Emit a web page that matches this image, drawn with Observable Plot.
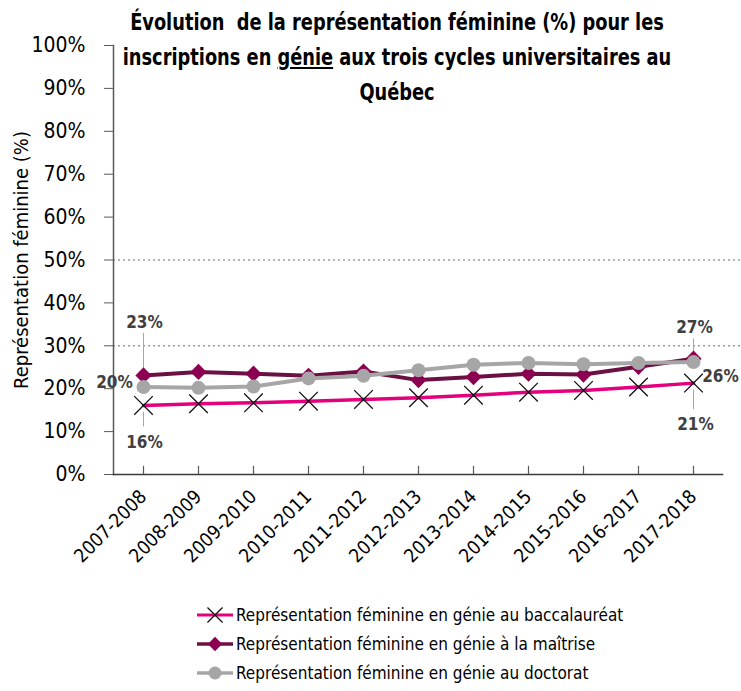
<!DOCTYPE html>
<html>
<head>
<meta charset="utf-8">
<script src="https://cdn.jsdelivr.net/npm/d3@7"></script>
<script src="https://cdn.jsdelivr.net/npm/@observablehq/plot@0.6"></script>
<style>
  html, body { margin: 0; padding: 0; background: #fff; }
  body { font-family: "DejaVu Sans Condensed", "Liberation Sans Narrow", sans-serif; }
  #wrap { position: relative; width: 741px; height: 691px; overflow: hidden; }
  #title { position: absolute; top: 5px; left: 397px; transform: translateX(-50%) scaleX(0.86); white-space: nowrap;
    text-align: center; font-weight: bold; font-size: 23px; line-height: 35px; color: #000; }
  #chart { position: absolute; top: 0; left: 0; }
  #legend { position: absolute; top: 0; left: 0; width: 741px; height: 691px; font-size: 17px; color: #000; }
  .row { position: absolute; left: 196px; height: 24px; width: 520px; }
  .row svg { position: absolute; left: 0; top: 2px; display: block; }
  .row span { position: absolute; left: 40px; top: 0; line-height: 24px; white-space: nowrap; }
</style>
</head>
<body>
<div id="wrap">
  <div id="chart"></div>
  <div id="title">Évolution&nbsp; de la représentation féminine (%) pour les<br>inscriptions en <u>génie</u> aux trois cycles universitaires au<br>Québec</div>
  <div id="legend"></div>
</div>
<script>
const years = ["2007-2008","2008-2009","2009-2010","2010-2011","2011-2012","2012-2013","2013-2014","2014-2015","2015-2016","2016-2017","2017-2018"];
const bac      = [16.1, 16.5, 16.7, 17.1, 17.5, 17.9, 18.5, 19.2, 19.6, 20.4, 21.3];
const maitrise = [23.1, 23.9, 23.5, 23.0, 24.0, 22.0, 22.7, 23.5, 23.3, 25.1, 27.0];
const doctorat = [20.4, 20.2, 20.5, 22.4, 23.0, 24.3, 25.6, 26.0, 25.7, 26.0, 26.2];
const seriesNames = [
  "Représentation féminine en génie au baccalauréat",
  "Représentation féminine en génie à la maîtrise",
  "Représentation féminine en génie au doctorat"
];
const yTicks = [0, 10, 20, 30, 40, 50, 60, 70, 80, 90, 100];
const gridValues = [30, 50];
const yTitle = "Représentation féminine (%)";

const FONT = '"DejaVu Sans Condensed", "Liberation Sans Narrow", sans-serif';
const colors = { bacLine: "#E4007C", bacMark: "#111111", maiLine: "#6B1042", maiMark: "#8C0052", docLine: "#A6A6A6", docMark: "#A6A6A6" };

const rows = (vals) => vals.map((v, i) => ({ year: years[i], value: v }));
const bacRows = rows(bac), maiRows = rows(maitrise), docRows = rows(doctorat);
const first = (r) => [r[0]];
const last = (r) => [r[r.length - 1]];
const pct = (d) => Math.round(d.value) + "%";
const labelStyle = { fontSize: 17, fontWeight: "bold", fill: "#404040", fontFamily: FONT };

const plot = Plot.plot({
  width: 741,
  height: 590,
  marginLeft: 113,
  marginRight: 19,
  marginTop: 45,
  marginBottom: 116,
  style: { fontFamily: FONT, color: "#000", background: "transparent", overflow: "visible" },
  x: { type: "point", domain: years, padding: 0.5 },
  y: { domain: [0, 100] },
  marks: [
    Plot.ruleY(gridValues, { stroke: "#9a9a9a", strokeWidth: 1.6, strokeDasharray: "2,3", insetRight: -19 }),
    Plot.frame({ anchor: "left", stroke: "#595959", strokeWidth: 1.5 }),
    Plot.frame({ anchor: "bottom", stroke: "#3a3a3a", strokeWidth: 1.5 }),
    Plot.axisY({ ticks: yTicks, tickSize: 9, tickPadding: 19, tickFormat: (d) => d + "%", label: null, fontSize: 21, stroke: "#595959" }),
    Plot.axisX({ tickSize: 0, tickPadding: 19, tickRotate: -45, label: null, fontSize: 19 }),
    Plot.ruleX(years, { x: (d) => d, y1: 0, y2: 1.9, stroke: "#595959", strokeWidth: 1.2 }),
    Plot.text([yTitle], { frameAnchor: "left", rotate: -90, dx: -92, textAnchor: "middle", text: (d) => d, fontSize: 20, fontFamily: FONT, fill: "#000" }),
    // leader lines
    Plot.ruleX(first(maiRows), { x: "year", y1: (d) => d.value + 1.6, y2: (d) => d.value + 9.8, stroke: "#a6a6a6", strokeWidth: 1 }),
    Plot.ruleX(first(bacRows), { x: "year", y1: (d) => d.value - 1.6, y2: (d) => d.value - 5.0, stroke: "#a6a6a6", strokeWidth: 1 }),
    Plot.ruleX(last(maiRows), { x: "year", y1: (d) => d.value + 1.4, y2: (d) => d.value + 4.6, stroke: "#a6a6a6", strokeWidth: 1 }),
    Plot.ruleX(last(bacRows), { x: "year", y1: (d) => d.value - 1.6, y2: (d) => d.value - 6.2, stroke: "#a6a6a6", strokeWidth: 1 }),
    // series
    Plot.line(bacRows, { x: "year", y: "value", stroke: colors.bacLine, strokeWidth: 3.5 }),
    Plot.dot(bacRows, { x: "year", y: "value", symbol: "times", r: 8.5, stroke: colors.bacMark, strokeWidth: 1.3 }),
    Plot.line(maiRows, { x: "year", y: "value", stroke: colors.maiLine, strokeWidth: 4 }),
    Plot.dot(maiRows, { x: "year", y: "value", symbol: "diamond2", r: 7.3, fill: colors.maiMark, stroke: "none" }),
    Plot.line(docRows, { x: "year", y: "value", stroke: colors.docLine, strokeWidth: 4 }),
    Plot.dot(docRows, { x: "year", y: "value", r: 7, fill: colors.docMark, stroke: "none" }),
    // data labels
    Plot.text(first(maiRows), { x: "year", y: "value", text: pct, dx: 1, dy: -53, ...labelStyle }),
    Plot.text(first(bacRows), { x: "year", y: "value", text: pct, dx: 1, dy: 37, ...labelStyle }),
    Plot.text(first(docRows), { x: "year", y: "value", text: pct, dx: -29, dy: -4, ...labelStyle }),
    Plot.text(last(maiRows), { x: "year", y: "value", text: pct, dx: 1, dy: -31, ...labelStyle }),
    Plot.text(last(docRows), { x: "year", y: "value", text: pct, dx: 27, dy: 14, ...labelStyle }),
    Plot.text(last(bacRows), { x: "year", y: "value", text: pct, dx: 2, dy: 41, ...labelStyle })
  ]
});
document.getElementById("chart").appendChild(plot);

// Legend
const legend = d3.select("#legend");
const swatches = [
  { line: colors.bacLine, lw: 3, kind: "times" },
  { line: colors.maiLine, lw: 3.5, kind: "diamond" },
  { line: colors.docLine, lw: 3.5, kind: "circle" }
];
const rowTops = [603, 632, 661];
seriesNames.forEach((name, i) => {
  const s = swatches[i];
  const row = legend.append("div").attr("class", "row").style("top", rowTops[i] + "px");
  const svg = row.append("svg").attr("width", 38).attr("height", 20);
  svg.append("line").attr("x1", 1).attr("x2", 37).attr("y1", 10).attr("y2", 10).attr("stroke", s.line).attr("stroke-width", s.lw);
  if (s.kind === "times") {
    svg.append("path").attr("transform", "translate(19,10)").attr("d", d3.symbol(d3.symbolTimes, 150)()).attr("stroke", colors.bacMark).attr("stroke-width", 1.3).attr("fill", "none");
  } else if (s.kind === "diamond") {
    svg.append("path").attr("transform", "translate(19,10)").attr("d", d3.symbol(d3.symbolDiamond2, 130)()).attr("fill", colors.maiMark);
  } else {
    svg.append("circle").attr("cx", 19).attr("cy", 10).attr("r", 6.5).attr("fill", colors.docMark);
  }
  row.append("span").text(name);
});
</script>
</body>
</html>
